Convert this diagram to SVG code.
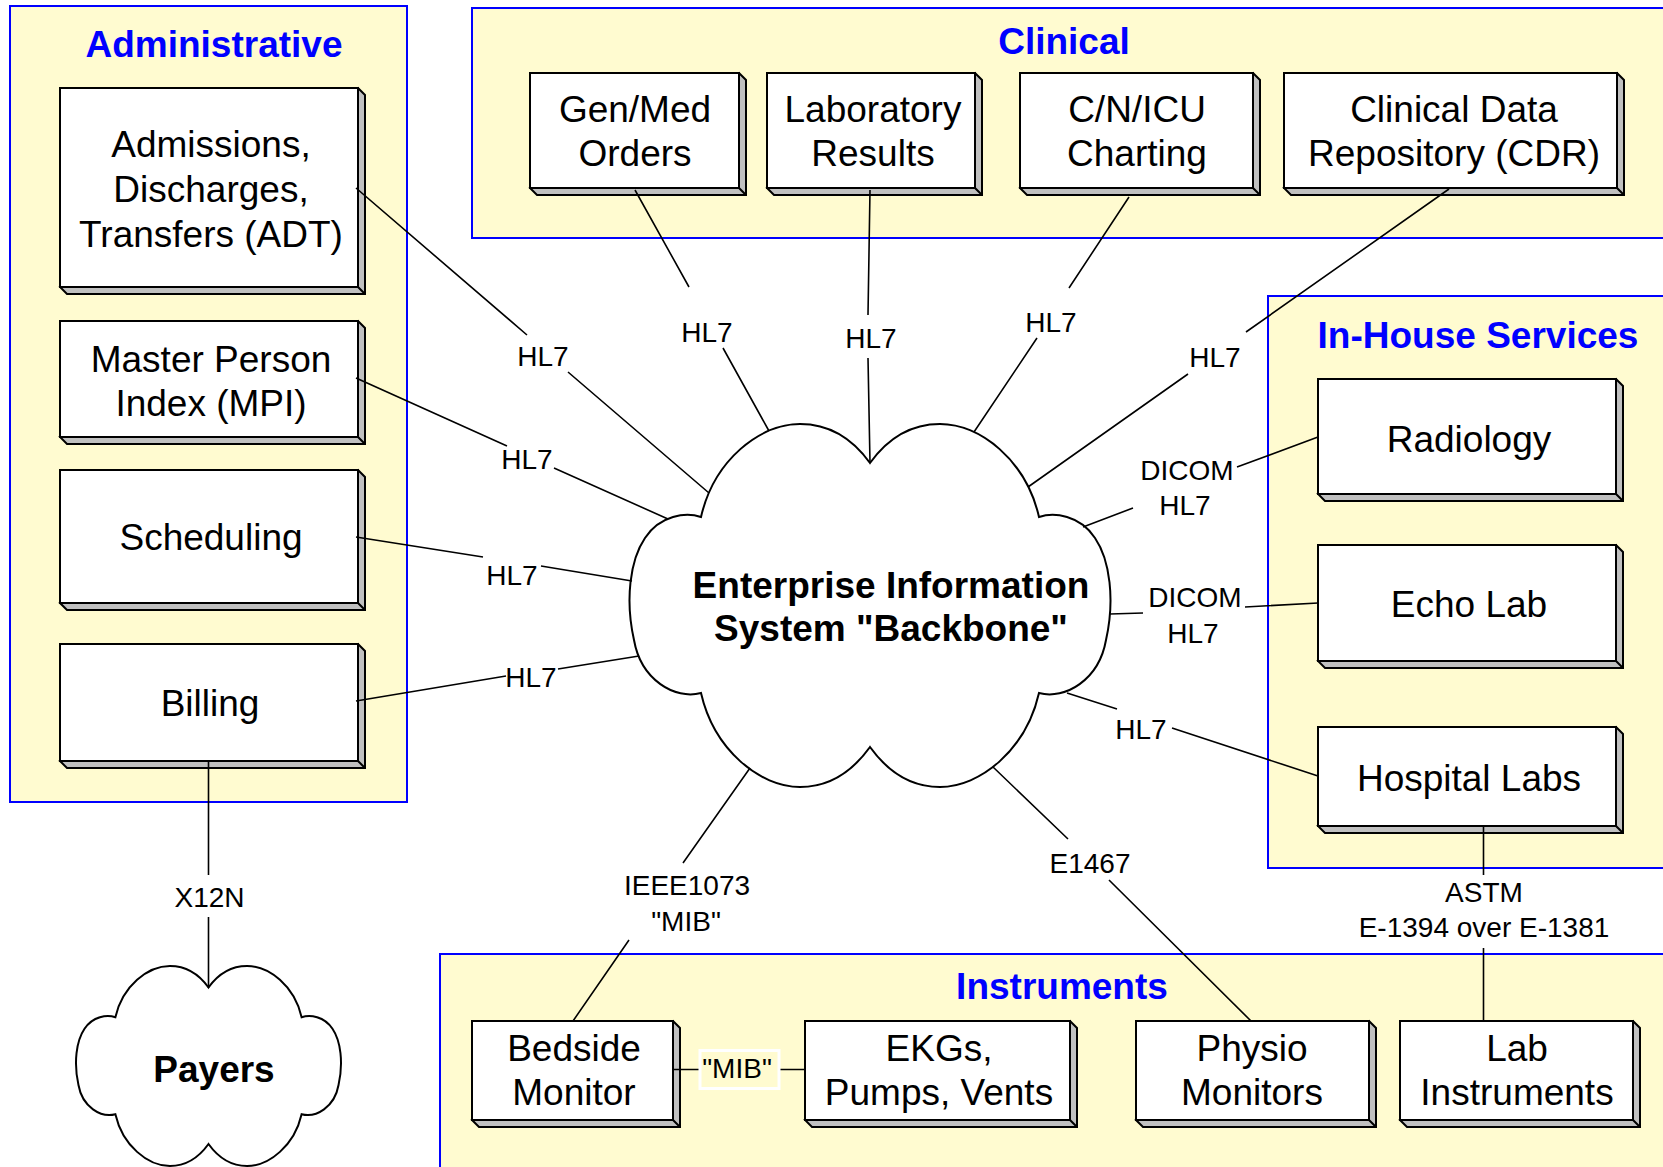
<svg xmlns="http://www.w3.org/2000/svg" xmlns:xlink="http://www.w3.org/1999/xlink" width="1663" height="1167" viewBox="0 0 1663 1167">
<style>
.panel{fill:#FFFBD0;stroke:#0000FF;stroke-width:2}
.ptitle{font-family:"Liberation Sans",Arial,sans-serif;font-weight:bold;font-size:37px;fill:#0000FF;text-anchor:middle}
.sh{fill:#C0C0C0;stroke:#000;stroke-width:2;stroke-linejoin:miter}
.fr{fill:#FFFFFF;stroke:#000;stroke-width:2}
.nt{font-family:"Liberation Sans",Arial,sans-serif;font-size:37px;fill:#000;text-anchor:middle}
.bt{font-family:"Liberation Sans",Arial,sans-serif;font-weight:bold;font-size:37px;fill:#000;text-anchor:middle}
.lb{font-family:"Liberation Sans",Arial,sans-serif;font-size:28px;fill:#000;text-anchor:middle}
.cn{stroke:#000;stroke-width:1.6;fill:none}
.cl{fill:#FFFFFF;stroke:#000}
</style>
<defs>
<path id="cloudShape" d="M870,463 C852,438 829,424 800,424 C760,424 714,460 701,517 C686,512 660,515 645,538 C630,560 625,600 634,640 C641,680 675,700 701,693 C714,750 760,787 800,787 C829,787 852,772 870,747 C888,772 911,787 940,787 C980,787 1026,750 1039,693 C1065,700 1099,680 1106,640 C1115,600 1110,560 1095,538 C1080,515 1054,512 1039,517 C1026,460 980,424 940,424 C911,424 888,438 870,463 Z"/>
</defs>
<rect width="1663" height="1167" fill="#FFFFFF"/>

<g id="panel-administrative">
<rect class="panel" x="10" y="6" width="397" height="796"/>
<text class="ptitle" x="214" y="57">Administrative</text>
</g>
<g id="panel-clinical">
<rect class="panel" x="472" y="8" width="1220" height="230"/>
<text class="ptitle" x="1064" y="54">Clinical</text>
</g>
<g id="panel-inhouse">
<rect class="panel" x="1268" y="296" width="420" height="572"/>
<text class="ptitle" x="1478" y="348">In-House Services</text>
</g>
<g id="panel-instruments">
<rect class="panel" x="440" y="954" width="1250" height="240"/>
<text class="ptitle" x="1062" y="999">Instruments</text>
</g>

<g id="node-adt">
<path class="sh" d="M358,88 L365,95 L365,294 L67,294 L60,287 Z M358,287 L365,294"/>
<rect class="fr" x="60" y="88" width="298" height="199"/>
<text class="nt" x="211" y="157">Admissions,</text>
<text class="nt" x="211" y="202">Discharges,</text>
<text class="nt" x="211" y="247">Transfers (ADT)</text>
</g>
<g id="node-mpi">
<path class="sh" d="M358,321 L365,328 L365,444 L67,444 L60,437 Z M358,437 L365,444"/>
<rect class="fr" x="60" y="321" width="298" height="116"/>
<text class="nt" x="211" y="372">Master Person</text>
<text class="nt" x="211" y="416">Index (MPI)</text>
</g>
<g id="node-scheduling">
<path class="sh" d="M358,470 L365,477 L365,610 L67,610 L60,603 Z M358,603 L365,610"/>
<rect class="fr" x="60" y="470" width="298" height="133"/>
<text class="nt" x="211" y="550">Scheduling</text>
</g>
<g id="node-billing">
<path class="sh" d="M358,644 L365,651 L365,768 L67,768 L60,761 Z M358,761 L365,768"/>
<rect class="fr" x="60" y="644" width="298" height="117"/>
<text class="nt" x="210" y="716">Billing</text>
</g>

<g id="node-genmed">
<path class="sh" d="M739,73 L746,80 L746,195 L537,195 L530,188 Z M739,188 L746,195"/>
<rect class="fr" x="530" y="73" width="209" height="115"/>
<text class="nt" x="635" y="122">Gen/Med</text>
<text class="nt" x="635" y="166">Orders</text>
</g>
<g id="node-labresults">
<path class="sh" d="M975,73 L982,80 L982,195 L774,195 L767,188 Z M975,188 L982,195"/>
<rect class="fr" x="767" y="73" width="208" height="115"/>
<text class="nt" x="873" y="122">Laboratory</text>
<text class="nt" x="873" y="166">Results</text>
</g>
<g id="node-cnicu">
<path class="sh" d="M1253,73 L1260,80 L1260,195 L1027,195 L1020,188 Z M1253,188 L1260,195"/>
<rect class="fr" x="1020" y="73" width="233" height="115"/>
<text class="nt" x="1137" y="122">C/N/ICU</text>
<text class="nt" x="1137" y="166">Charting</text>
</g>
<g id="node-cdr">
<path class="sh" d="M1617,73 L1624,80 L1624,195 L1291,195 L1284,188 Z M1617,188 L1624,195"/>
<rect class="fr" x="1284" y="73" width="333" height="115"/>
<text class="nt" x="1454" y="122">Clinical Data</text>
<text class="nt" x="1454" y="166">Repository (CDR)</text>
</g>

<g id="node-radiology">
<path class="sh" d="M1616,379 L1623,386 L1623,501 L1325,501 L1318,494 Z M1616,494 L1623,501"/>
<rect class="fr" x="1318" y="379" width="298" height="115"/>
<text class="nt" x="1469" y="452">Radiology</text>
</g>
<g id="node-echolab">
<path class="sh" d="M1616,545 L1623,552 L1623,668 L1325,668 L1318,661 Z M1616,661 L1623,668"/>
<rect class="fr" x="1318" y="545" width="298" height="116"/>
<text class="nt" x="1469" y="617">Echo Lab</text>
</g>
<g id="node-hospitallabs">
<path class="sh" d="M1616,727 L1623,734 L1623,833 L1325,833 L1318,826 Z M1616,826 L1623,833"/>
<rect class="fr" x="1318" y="727" width="298" height="99"/>
<text class="nt" x="1469" y="791">Hospital Labs</text>
</g>

<g id="node-bedside">
<path class="sh" d="M673,1021 L680,1028 L680,1127 L479,1127 L472,1120 Z M673,1120 L680,1127"/>
<rect class="fr" x="472" y="1021" width="201" height="99"/>
<text class="nt" x="574" y="1061">Bedside</text>
<text class="nt" x="574" y="1105">Monitor</text>
</g>
<g id="node-ekgs">
<path class="sh" d="M1070,1021 L1077,1028 L1077,1127 L812,1127 L805,1120 Z M1070,1120 L1077,1127"/>
<rect class="fr" x="805" y="1021" width="265" height="99"/>
<text class="nt" x="939" y="1061">EKGs,</text>
<text class="nt" x="939" y="1105">Pumps, Vents</text>
</g>
<g id="node-physio">
<path class="sh" d="M1369,1021 L1376,1028 L1376,1127 L1143,1127 L1136,1120 Z M1369,1120 L1376,1127"/>
<rect class="fr" x="1136" y="1021" width="233" height="99"/>
<text class="nt" x="1252" y="1061">Physio</text>
<text class="nt" x="1252" y="1105">Monitors</text>
</g>
<g id="node-labinstruments">
<path class="sh" d="M1633,1021 L1640,1028 L1640,1127 L1407,1127 L1400,1120 Z M1633,1120 L1640,1127"/>
<rect class="fr" x="1400" y="1021" width="233" height="99"/>
<text class="nt" x="1517" y="1061">Lab</text>
<text class="nt" x="1517" y="1105">Instruments</text>
</g>

<g id="node-backbone">
<use xlink:href="#cloudShape" href="#cloudShape" class="cl" stroke-width="2"/>
<text class="bt" x="891" y="598">Enterprise Information</text>
<text class="bt" x="891" y="641">System "Backbone"</text>
</g>
<g id="node-payers">
<use xlink:href="#cloudShape" href="#cloudShape" class="cl" stroke-width="3.6" transform="translate(208.5,1066) scale(0.551) translate(-870,-605.5)"/>
<text class="bt" x="214" y="1082">Payers</text>
</g>

<g id="connectors">
<path class="cn" d="M356,188 L527,335 M568,372 L709,493"/>
<path class="cn" d="M356,378 L507,446 M554,468 L668,519"/>
<path class="cn" d="M356,537 L483,557 M541,566 L632,581"/>
<path class="cn" d="M356,701 L506,676 M558,669 L639,656"/>
<path class="cn" d="M635,190 L689,287 M723,348 L769,431"/>
<path class="cn" d="M870,190 L868,315 M868,358 L870,463"/>
<path class="cn" d="M1129,197 L1069,288 M1037,338 L974,432"/>
<path class="cn" d="M1449,189 L1246,332 M1188,374 L1028,487"/>
<path class="cn" d="M1083,527 L1133,508 M1237,467 L1318,437"/>
<path class="cn" d="M1110,614 L1143,613 M1245,607 L1318,603"/>
<path class="cn" d="M1067,693 L1117,709 M1172,728 L1318,776"/>
<path class="cn" d="M1483.5,826 L1483.5,875 M1483.5,948 L1483.5,1021"/>
<path class="cn" d="M993,767 L1068,839 M1109,880 L1251,1021"/>
<path class="cn" d="M750,768 L683,863 M629,940 L573,1021"/>
<path class="cn" d="M208.5,761 L208.5,875 M208.5,917 L208.5,988"/>
<path class="cn" d="M673,1069.5 L700,1069.5 M779,1069.5 L805,1069.5"/>
<rect x="700" y="1050.5" width="79" height="38" fill="#FFFBD0" stroke="#FFFFFF" stroke-width="3"/>
<text class="lb" x="737" y="1078">"MIB"</text>
<text class="lb" x="543" y="366">HL7</text>
<text class="lb" x="527" y="469">HL7</text>
<text class="lb" x="512" y="585">HL7</text>
<text class="lb" x="531" y="687">HL7</text>
<text class="lb" x="707" y="342">HL7</text>
<text class="lb" x="871" y="348">HL7</text>
<text class="lb" x="1051" y="332">HL7</text>
<text class="lb" x="1215" y="367">HL7</text>
<text class="lb" x="1187" y="480">DICOM</text>
<text class="lb" x="1185" y="515">HL7</text>
<text class="lb" x="1195" y="607">DICOM</text>
<text class="lb" x="1193" y="643">HL7</text>
<text class="lb" x="1141" y="739">HL7</text>
<text class="lb" x="1090" y="873">E1467</text>
<text class="lb" x="687" y="895">IEEE1073</text>
<text class="lb" x="686" y="931">"MIB"</text>
<text class="lb" x="209.5" y="907">X12N</text>
<text class="lb" x="1484" y="902">ASTM</text>
<text class="lb" x="1484" y="937">E-1394 over E-1381</text>
</g>
</svg>
